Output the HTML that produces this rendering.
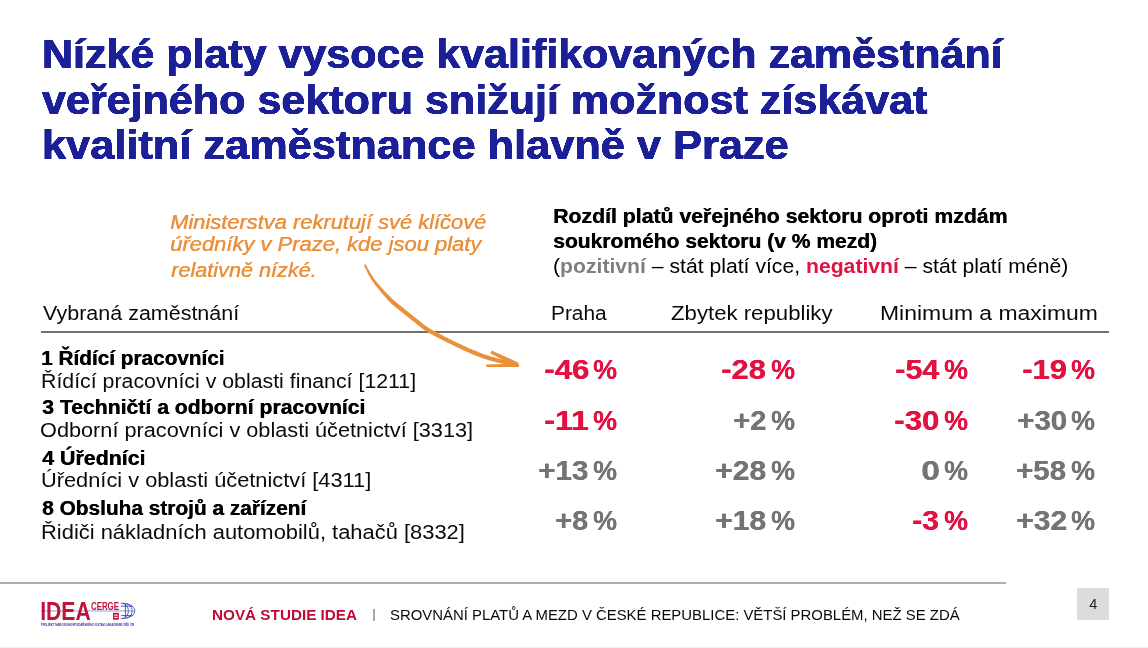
<!DOCTYPE html><html><head><meta charset="utf-8"><style>
*{margin:0;padding:0;box-sizing:border-box}
html,body{width:1148px;height:648px;background:#fff;overflow:hidden;position:relative;}
body{will-change:transform;font-family:'Liberation Sans',sans-serif}
.t{position:absolute;white-space:nowrap;line-height:1;transform-origin:0 0}
.bl{display:inline-block;width:0;height:0;vertical-align:baseline}
</style></head><body><div style="position:absolute;left:40.5px;top:331px;width:1068px;height:1.5px;background:#707070"></div>
<div style="position:absolute;left:0;top:582px;width:1006px;height:2px;background:#adadad"></div>
<div style="position:absolute;left:1077px;top:588px;width:32px;height:32px;background:#dcdcdc"></div>
<div style="position:absolute;left:0;top:647px;width:1148px;height:1px;background:#f0f0f0"></div>
<div style="position:absolute;left:373.4px;top:608.7px;width:1.2px;height:12.3px;background:#a8a8a8"></div>
<svg style="position:absolute;left:0;top:0" width="1148" height="648" viewBox="0 0 1148 648">
<polygon points="363.9,265.1 364.4,266.2 365.1,267.7 366.0,269.4 366.9,271.3 367.9,273.4 369.0,275.4 370.1,277.4 371.2,279.2 372.3,280.9 373.5,282.6 374.7,284.2 375.9,285.9 377.2,287.4 378.5,289.0 379.7,290.5 380.9,292.0 382.1,293.5 383.3,294.9 384.5,296.3 385.7,297.6 386.9,299.0 388.1,300.3 389.4,301.6 390.7,302.9 392.0,304.2 393.4,305.4 394.8,306.5 396.2,307.7 397.6,308.8 399.0,309.9 400.4,311.1 401.9,312.2 403.4,313.4 404.9,314.7 406.5,316.0 408.1,317.2 409.7,318.5 411.3,319.7 412.8,321.0 414.3,322.1 415.7,323.3 417.1,324.4 418.5,325.5 419.8,326.6 421.2,327.7 422.6,328.8 424.1,329.8 425.5,330.9 427.1,331.8 428.7,332.8 430.3,333.7 432.0,334.6 433.6,335.4 435.1,336.2 436.6,337.0 438.0,337.8 439.3,338.4 440.4,339.0 441.4,339.6 442.4,340.1 443.4,340.6 444.6,341.2 446.0,341.9 447.6,342.7 449.5,343.6 451.6,344.6 453.9,345.8 456.3,346.9 458.8,348.1 461.3,349.3 463.8,350.5 466.2,351.5 468.5,352.5 470.8,353.5 473.2,354.5 475.5,355.5 477.9,356.4 480.2,357.3 482.6,358.2 484.9,359.0 487.3,359.8 489.8,360.5 492.2,361.2 494.6,361.8 497.0,362.5 499.3,363.1 501.5,363.6 503.5,364.0 505.4,364.5 507.4,364.9 509.2,365.3 511.0,365.7 512.6,366.0 514.0,366.2 515.2,366.5 516.2,366.6 516.8,363.8 515.9,363.5 514.8,363.1 513.4,362.7 511.8,362.3 510.1,361.8 508.3,361.3 506.4,360.7 504.5,360.2 502.5,359.6 500.3,359.0 498.1,358.4 495.7,357.8 493.3,357.1 490.9,356.5 488.6,355.8 486.3,355.0 484.0,354.2 481.7,353.4 479.4,352.5 477.1,351.6 474.8,350.6 472.5,349.7 470.2,348.7 467.8,347.7 465.5,346.6 463.0,345.5 460.6,344.3 458.1,343.2 455.7,342.0 453.4,340.9 451.3,339.8 449.4,338.9 447.8,338.1 446.5,337.5 445.4,336.9 444.3,336.4 443.4,335.8 442.4,335.3 441.3,334.7 440.0,334.0 438.6,333.3 437.1,332.5 435.5,331.7 433.9,330.9 432.4,330.0 430.8,329.2 429.3,328.3 427.9,327.3 426.5,326.4 425.1,325.4 423.8,324.4 422.5,323.4 421.1,322.3 419.8,321.2 418.4,320.0 416.9,318.9 415.4,317.7 413.9,316.5 412.3,315.2 410.7,313.9 409.1,312.7 407.6,311.4 406.0,310.2 404.5,309.0 403.1,307.8 401.6,306.6 400.2,305.5 398.8,304.4 397.5,303.3 396.1,302.2 394.8,301.0 393.5,299.9 392.2,298.7 391.0,297.5 389.7,296.3 388.5,295.1 387.2,293.8 386.0,292.5 384.7,291.2 383.5,289.8 382.2,288.4 380.9,286.9 379.6,285.5 378.3,284.0 377.0,282.4 375.7,280.9 374.5,279.3 373.4,277.8 372.3,276.1 371.1,274.2 370.0,272.3 368.9,270.3 367.8,268.4 366.9,266.8 366.1,265.3 365.5,264.3" fill="#ea903c"/>
<polygon points="490.3,353.2 516.4,367.1 518.6,362.7 491.7,350.4" fill="#ea903c"/>
<polygon points="486.3,367.1 517.5,367.1 517.5,363.5 486.3,364.5" fill="#ea903c"/>
<circle cx="517.3" cy="365.3" r="1.9" fill="#ea903c"/>
</svg>
<svg style="position:absolute;left:0;top:0" width="1148" height="648" viewBox="0 0 1148 648">
<rect x="41" y="610.2" width="94" height="1.5" fill="#b3c0e6"/>
<text x="40.2" y="619.9" font-family="Liberation Sans" font-weight="700" font-size="25.6" fill="#c1123c" textLength="50.6" lengthAdjust="spacingAndGlyphs">IDEA</text>
<text x="91" y="609.6" font-family="Liberation Sans" font-weight="700" font-size="10.6" fill="#c1123c" textLength="28" lengthAdjust="spacingAndGlyphs">CERGE</text>
<rect x="113" y="612.8" width="5.8" height="6.9" fill="#c1123c"/>
<rect x="114.3" y="614.6" width="3.3" height="1.1" fill="#fff"/>
<rect x="114.3" y="616.8" width="3.3" height="1.1" fill="#fff"/>
<g fill="none" stroke="#2b36a6" stroke-width="0.8">
<path d="M120.8,603.2 C130,603.6 134.8,606.5 134.8,610.9 C134.8,615.3 130,618.2 120.8,618.6"/>
<path d="M123.5,603.3 C127.5,605.5 128.3,608 128.3,610.9 C128.3,613.8 127.5,616.3 123.5,618.5"/>
<path d="M126.5,603.6 C131.2,605.5 132,608 132,610.9 C132,613.8 131.2,616.3 126.5,618.2"/>
<line x1="121" y1="606.2" x2="132.5" y2="606.2"/>
<line x1="121" y1="615.6" x2="132.5" y2="615.6"/>
<line x1="125.4" y1="604" x2="125.4" y2="617.8"/>
</g>
<text x="41" y="625.9" font-family="Liberation Sans" font-weight="700" font-size="3.6" fill="#2b36a6" textLength="93" lengthAdjust="spacingAndGlyphs">PROJEKT NÁRODOHOSPODÁŘSKÉHO ÚSTAVU AKADEMIE VĚD ČR</text>
</svg>
<div class="t" style="font-family:'Liberation Sans',sans-serif;font-size:41px;font-weight:700;font-style:normal;color:#1b2097;text-shadow:0.25px 0.00px 0 #1b2097,0.18px 0.18px 0 #1b2097,0.00px 0.25px 0 #1b2097,-0.18px 0.18px 0 #1b2097,-0.25px 0.00px 0 #1b2097,-0.18px -0.18px 0 #1b2097,-0.00px -0.25px 0 #1b2097,0.18px -0.18px 0 #1b2097; left:41.90px;top:34.20px;transform:scaleX(1.0486);">Nízké platy vysoce kvalifikovaných zaměstnání</div>
<div class="t" style="font-family:'Liberation Sans',sans-serif;font-size:41px;font-weight:700;font-style:normal;color:#1b2097;text-shadow:0.25px 0.00px 0 #1b2097,0.18px 0.18px 0 #1b2097,0.00px 0.25px 0 #1b2097,-0.18px 0.18px 0 #1b2097,-0.25px 0.00px 0 #1b2097,-0.18px -0.18px 0 #1b2097,-0.00px -0.25px 0 #1b2097,0.18px -0.18px 0 #1b2097; left:41.60px;top:79.50px;transform:scaleX(1.0503);">veřejného sektoru snižují možnost získávat</div>
<div class="t" style="font-family:'Liberation Sans',sans-serif;font-size:41px;font-weight:700;font-style:normal;color:#1b2097;text-shadow:0.25px 0.00px 0 #1b2097,0.18px 0.18px 0 #1b2097,0.00px 0.25px 0 #1b2097,-0.18px 0.18px 0 #1b2097,-0.25px 0.00px 0 #1b2097,-0.18px -0.18px 0 #1b2097,-0.00px -0.25px 0 #1b2097,0.18px -0.18px 0 #1b2097; left:41.79px;top:125.40px;transform:scaleX(1.0570);">kvalitní zaměstnance hlavně v Praze</div>
<div class="t" style="font-family:'Liberation Sans',sans-serif;font-size:20px;font-weight:400;font-style:italic;color:#ea903c;text-shadow:0.40px 0 0 #ea903c; left:169.91px;top:211.50px;transform:scaleX(1.0938);">Ministerstva rekrutují své klíčové</div>
<div class="t" style="font-family:'Liberation Sans',sans-serif;font-size:20px;font-weight:400;font-style:italic;color:#ea903c;text-shadow:0.40px 0 0 #ea903c; left:169.90px;top:234.40px;transform:scaleX(1.0975);">úředníky v Praze, kde jsou platy</div>
<div class="t" style="font-family:'Liberation Sans',sans-serif;font-size:20px;font-weight:400;font-style:italic;color:#ea903c;text-shadow:0.40px 0 0 #ea903c; left:171.00px;top:260.10px;transform:scaleX(1.0818);">relativně nízké.</div>
<div class="t" style="font-family:'Liberation Sans',sans-serif;font-size:19.3px;font-weight:700;font-style:normal;color:#000;text-shadow:0.40px 0 0 #000; left:552.90px;top:206.90px;transform:scaleX(1.1015);">Rozdíl platů veřejného sektoru oproti mzdám</div>
<div class="t" style="font-family:'Liberation Sans',sans-serif;font-size:19.3px;font-weight:700;font-style:normal;color:#000;text-shadow:0.40px 0 0 #000; left:552.91px;top:231.80px;transform:scaleX(1.0915);">soukromého sektoru (v % mezd)</div>
<div class="t" style="font-family:'Liberation Sans',sans-serif;font-size:19.3px;font-weight:400;font-style:normal;color:#000; left:553.40px;top:256.60px;transform:scaleX(1.0981);">(<b style="color:#7f7f7f">pozitivní</b> – stát platí více, <b style="color:#e3113f">negativní</b> – stát platí méně)</div>
<div class="t" style="font-family:'Liberation Sans',sans-serif;font-size:19.4px;font-weight:400;font-style:normal;color:#0a0a0a; left:42.50px;top:304.00px;transform:scaleX(1.1073);">Vybraná zaměstnání</div>
<div class="t" style="font-family:'Liberation Sans',sans-serif;font-size:19.4px;font-weight:400;font-style:normal;color:#0a0a0a; left:551.42px;top:304.00px;transform:scaleX(1.0765);">Praha</div>
<div class="t" style="font-family:'Liberation Sans',sans-serif;font-size:19.4px;font-weight:400;font-style:normal;color:#0a0a0a; left:671.40px;top:304.00px;transform:scaleX(1.1440);">Zbytek republiky</div>
<div class="t" style="font-family:'Liberation Sans',sans-serif;font-size:19.4px;font-weight:400;font-style:normal;color:#0a0a0a; left:879.82px;top:304.00px;transform:scaleX(1.1824);">Minimum a maximum</div>
<div class="t" style="font-family:'Liberation Sans',sans-serif;font-size:19.4px;font-weight:700;font-style:normal;color:#000;text-shadow:0.40px 0 0 #000; left:41.43px;top:349.00px;transform:scaleX(1.0706);">1 Řídící pracovníci</div>
<div class="t" style="font-family:'Liberation Sans',sans-serif;font-size:19.4px;font-weight:400;font-style:normal;color:#0a0a0a; left:40.80px;top:371.70px;transform:scaleX(1.0991);">Řídící pracovníci v oblasti financí [1211]</div>
<div class="t" style="font-family:'Liberation Sans',sans-serif;font-size:19.4px;font-weight:700;font-style:normal;color:#000;text-shadow:0.40px 0 0 #000; left:41.50px;top:398.40px;transform:scaleX(1.0922);">3 Techničtí a odborní pracovníci</div>
<div class="t" style="font-family:'Liberation Sans',sans-serif;font-size:19.4px;font-weight:400;font-style:normal;color:#0a0a0a; left:40.38px;top:420.90px;transform:scaleX(1.1192);">Odborní pracovníci v oblasti účetnictví [3313]</div>
<div class="t" style="font-family:'Liberation Sans',sans-serif;font-size:19.4px;font-weight:700;font-style:normal;color:#000;text-shadow:0.40px 0 0 #000; left:41.50px;top:449.30px;transform:scaleX(1.1022);">4 Úředníci</div>
<div class="t" style="font-family:'Liberation Sans',sans-serif;font-size:19.4px;font-weight:400;font-style:normal;color:#0a0a0a; left:40.78px;top:471.30px;transform:scaleX(1.1236);">Úředníci v oblasti účetnictví [4311]</div>
<div class="t" style="font-family:'Liberation Sans',sans-serif;font-size:19.4px;font-weight:700;font-style:normal;color:#000;text-shadow:0.40px 0 0 #000; left:41.50px;top:499.10px;transform:scaleX(1.0749);">8 Obsluha strojů a zařízení</div>
<div class="t" style="font-family:'Liberation Sans',sans-serif;font-size:19.4px;font-weight:400;font-style:normal;color:#0a0a0a; left:40.77px;top:522.70px;transform:scaleX(1.1300);">Řidiči nákladních automobilů, tahačů [8332]</div>
<div class="t" style="font-family:'Liberation Sans',sans-serif;font-size:28.3px;font-weight:700;font-style:normal;color:#e3113f;text-shadow:0.45px 0 0 #e3113f; left:543.89px;top:355.00px;transform:scaleX(1.1051);">-46</div>
<div class="t" style="font-family:'Liberation Sans',sans-serif;font-size:28.3px;font-weight:700;font-style:normal;color:#e3113f;text-shadow:0.30px 0 0 #e3113f; left:593.45px;top:355.00px;transform:scaleX(0.9500);">%</div>
<div class="t" style="font-family:'Liberation Sans',sans-serif;font-size:28.3px;font-weight:700;font-style:normal;color:#e3113f;text-shadow:0.45px 0 0 #e3113f; left:721.11px;top:355.00px;transform:scaleX(1.0900);">-28</div>
<div class="t" style="font-family:'Liberation Sans',sans-serif;font-size:28.3px;font-weight:700;font-style:normal;color:#e3113f;text-shadow:0.30px 0 0 #e3113f; left:771.15px;top:355.00px;transform:scaleX(0.9500);">%</div>
<div class="t" style="font-family:'Liberation Sans',sans-serif;font-size:28.3px;font-weight:700;font-style:normal;color:#e3113f;text-shadow:0.45px 0 0 #e3113f; left:894.52px;top:355.00px;transform:scaleX(1.0775);">-54</div>
<div class="t" style="font-family:'Liberation Sans',sans-serif;font-size:28.3px;font-weight:700;font-style:normal;color:#e3113f;text-shadow:0.30px 0 0 #e3113f; left:944.05px;top:355.00px;transform:scaleX(0.9500);">%</div>
<div class="t" style="font-family:'Liberation Sans',sans-serif;font-size:28.3px;font-weight:700;font-style:normal;color:#e3113f;text-shadow:0.45px 0 0 #e3113f; left:1021.80px;top:355.00px;transform:scaleX(1.0974);">-19</div>
<div class="t" style="font-family:'Liberation Sans',sans-serif;font-size:28.3px;font-weight:700;font-style:normal;color:#e3113f;text-shadow:0.30px 0 0 #e3113f; left:1071.05px;top:355.00px;transform:scaleX(0.9500);">%</div>
<div class="t" style="font-family:'Liberation Sans',sans-serif;font-size:28.3px;font-weight:700;font-style:normal;color:#e3113f;text-shadow:0.45px 0 0 #e3113f; left:543.87px;top:406.00px;transform:scaleX(1.1342);">-11</div>
<div class="t" style="font-family:'Liberation Sans',sans-serif;font-size:28.3px;font-weight:700;font-style:normal;color:#e3113f;text-shadow:0.30px 0 0 #e3113f; left:593.45px;top:406.00px;transform:scaleX(0.9500);">%</div>
<div class="t" style="font-family:'Liberation Sans',sans-serif;font-size:28.3px;font-weight:700;font-style:normal;color:#747474;text-shadow:0.45px 0 0 #747474; left:732.97px;top:406.00px;transform:scaleX(1.0258);">+2</div>
<div class="t" style="font-family:'Liberation Sans',sans-serif;font-size:28.3px;font-weight:700;font-style:normal;color:#747474;text-shadow:0.30px 0 0 #747474; left:771.15px;top:406.00px;transform:scaleX(0.9500);">%</div>
<div class="t" style="font-family:'Liberation Sans',sans-serif;font-size:28.3px;font-weight:700;font-style:normal;color:#e3113f;text-shadow:0.45px 0 0 #e3113f; left:894.49px;top:406.00px;transform:scaleX(1.1051);">-30</div>
<div class="t" style="font-family:'Liberation Sans',sans-serif;font-size:28.3px;font-weight:700;font-style:normal;color:#e3113f;text-shadow:0.30px 0 0 #e3113f; left:944.05px;top:406.00px;transform:scaleX(0.9500);">%</div>
<div class="t" style="font-family:'Liberation Sans',sans-serif;font-size:28.3px;font-weight:700;font-style:normal;color:#747474;text-shadow:0.45px 0 0 #747474; left:1016.76px;top:406.00px;transform:scaleX(1.0413);">+30</div>
<div class="t" style="font-family:'Liberation Sans',sans-serif;font-size:28.3px;font-weight:700;font-style:normal;color:#747474;text-shadow:0.30px 0 0 #747474; left:1071.05px;top:406.00px;transform:scaleX(0.9500);">%</div>
<div class="t" style="font-family:'Liberation Sans',sans-serif;font-size:28.3px;font-weight:700;font-style:normal;color:#747474;text-shadow:0.45px 0 0 #747474; left:537.96px;top:455.90px;transform:scaleX(1.0447);">+13</div>
<div class="t" style="font-family:'Liberation Sans',sans-serif;font-size:28.3px;font-weight:700;font-style:normal;color:#747474;text-shadow:0.30px 0 0 #747474; left:593.45px;top:455.90px;transform:scaleX(0.9500);">%</div>
<div class="t" style="font-family:'Liberation Sans',sans-serif;font-size:28.3px;font-weight:700;font-style:normal;color:#747474;text-shadow:0.45px 0 0 #747474; left:714.94px;top:455.90px;transform:scaleX(1.0596);">+28</div>
<div class="t" style="font-family:'Liberation Sans',sans-serif;font-size:28.3px;font-weight:700;font-style:normal;color:#747474;text-shadow:0.30px 0 0 #747474; left:771.15px;top:455.90px;transform:scaleX(0.9500);">%</div>
<div class="t" style="font-family:'Liberation Sans',sans-serif;font-size:28.3px;font-weight:700;font-style:normal;color:#747474;text-shadow:0.45px 0 0 #747474; left:920.81px;top:455.90px;transform:scaleX(1.1929);">0</div>
<div class="t" style="font-family:'Liberation Sans',sans-serif;font-size:28.3px;font-weight:700;font-style:normal;color:#747474;text-shadow:0.30px 0 0 #747474; left:944.05px;top:455.90px;transform:scaleX(0.9500);">%</div>
<div class="t" style="font-family:'Liberation Sans',sans-serif;font-size:28.3px;font-weight:700;font-style:normal;color:#747474;text-shadow:0.45px 0 0 #747474; left:1015.96px;top:455.90px;transform:scaleX(1.0362);">+58</div>
<div class="t" style="font-family:'Liberation Sans',sans-serif;font-size:28.3px;font-weight:700;font-style:normal;color:#747474;text-shadow:0.30px 0 0 #747474; left:1071.05px;top:455.90px;transform:scaleX(0.9500);">%</div>
<div class="t" style="font-family:'Liberation Sans',sans-serif;font-size:28.3px;font-weight:700;font-style:normal;color:#747474;text-shadow:0.45px 0 0 #747474; left:555.38px;top:505.90px;transform:scaleX(1.0226);">+8</div>
<div class="t" style="font-family:'Liberation Sans',sans-serif;font-size:28.3px;font-weight:700;font-style:normal;color:#747474;text-shadow:0.30px 0 0 #747474; left:593.45px;top:505.90px;transform:scaleX(0.9500);">%</div>
<div class="t" style="font-family:'Liberation Sans',sans-serif;font-size:28.3px;font-weight:700;font-style:normal;color:#747474;text-shadow:0.45px 0 0 #747474; left:714.94px;top:505.90px;transform:scaleX(1.0596);">+18</div>
<div class="t" style="font-family:'Liberation Sans',sans-serif;font-size:28.3px;font-weight:700;font-style:normal;color:#747474;text-shadow:0.30px 0 0 #747474; left:771.15px;top:505.90px;transform:scaleX(0.9500);">%</div>
<div class="t" style="font-family:'Liberation Sans',sans-serif;font-size:28.3px;font-weight:700;font-style:normal;color:#e3113f;text-shadow:0.45px 0 0 #e3113f; left:912.14px;top:505.90px;transform:scaleX(1.0625);">-3</div>
<div class="t" style="font-family:'Liberation Sans',sans-serif;font-size:28.3px;font-weight:700;font-style:normal;color:#e3113f;text-shadow:0.30px 0 0 #e3113f; left:944.05px;top:505.90px;transform:scaleX(0.9500);">%</div>
<div class="t" style="font-family:'Liberation Sans',sans-serif;font-size:28.3px;font-weight:700;font-style:normal;color:#747474;text-shadow:0.45px 0 0 #747474; left:1015.94px;top:505.90px;transform:scaleX(1.0587);">+32</div>
<div class="t" style="font-family:'Liberation Sans',sans-serif;font-size:28.3px;font-weight:700;font-style:normal;color:#747474;text-shadow:0.30px 0 0 #747474; left:1071.05px;top:505.90px;transform:scaleX(0.9500);">%</div>
<div class="t" style="font-family:'Liberation Sans',sans-serif;font-size:14.1px;font-weight:700;font-style:normal;color:#bf0c35; left:211.62px;top:607.80px;transform:scaleX(1.0835);">NOVÁ STUDIE IDEA</div>
<div class="t" style="font-family:'Liberation Sans',sans-serif;font-size:14.1px;font-weight:400;font-style:normal;color:#0a0a0a; left:390.44px;top:607.80px;transform:scaleX(1.0576);">SROVNÁNÍ PLATŮ A MEZD V ČESKÉ REPUBLICE: VĚTŠÍ PROBLÉM, NEŽ SE ZDÁ</div>
<div class="t" style="font-family:'Liberation Sans',sans-serif;font-size:14.5px;font-weight:400;font-style:normal;color:#222; left:1089.30px;top:596.60px;">4</div></body></html>
